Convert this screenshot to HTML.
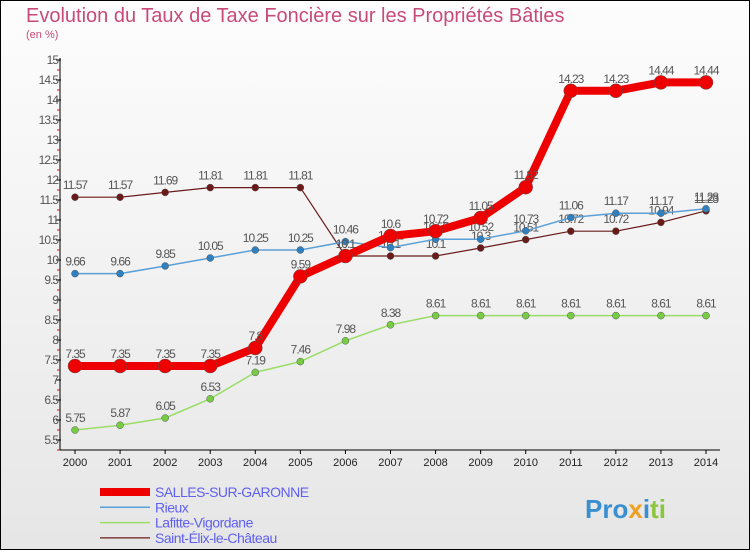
<!DOCTYPE html>
<html><head><meta charset="utf-8"><style>
body{margin:0;width:750px;height:550px;overflow:hidden;font-family:"Liberation Sans",sans-serif}
</style></head><body>
<svg width="750" height="550" xmlns="http://www.w3.org/2000/svg">
<defs><linearGradient id="bg" x1="0" y1="0" x2="0" y2="1"><stop offset="0" stop-color="#fdfdfd"/><stop offset="1" stop-color="#e6e6e6"/></linearGradient></defs>
<rect x="0.5" y="0.5" width="749" height="549" fill="url(#bg)" stroke="#000"/>
<text x="26" y="22" font-size="20" fill="#c84a78">Evolution du Taux de Taxe Foncière sur les Propriétés Bâties</text>
<text x="26" y="38" font-size="11" fill="#c84a78">(en %)</text>
<g id="axes"></g>
<g id="series"></g>
<g id="legend" font-size="14"></g>
<g font-size="26" font-weight="bold">
<text x="585" y="518" fill="#3a8fd0">Pro<tspan fill="#f0a020">x</tspan><tspan fill="#3a8fd0">i</tspan><tspan fill="#8cc63f">ti</tspan></text>
</g>
</svg>
<script>
const years=[2000,2001,2002,2003,2004,2005,2006,2007,2008,2009,2010,2011,2012,2013,2014];
const salles=[7.35,7.35,7.35,7.35,7.8,9.59,10.1,10.6,10.72,11.05,11.82,14.23,14.23,14.44,14.44];
const rieux=[9.66,9.66,9.85,10.05,10.25,10.25,10.46,10.31,10.52,10.52,10.73,11.06,11.17,11.17,11.28];
const lafitte=[5.75,5.87,6.05,6.53,7.19,7.46,7.98,8.38,8.61,8.61,8.61,8.61,8.61,8.61,8.61];
const elix=[11.57,11.57,11.69,11.81,11.81,11.81,10.1,10.1,10.1,10.3,10.51,10.72,10.72,10.94,11.23];
const yTicks=[5.5,6,6.5,7,7.5,8,8.5,9,9.5,10,10.5,11,11.5,12,12.5,13,13.5,14,14.5,15];
const names=["SALLES-SUR-GARONNE","Rieux","Lafitte-Vigordane","Saint-Élix-le-Château"];
const NS="http://www.w3.org/2000/svg";
const X=i=>75+i*(706-75)/14;
const Y=v=>60+(15-v)*40;
function mk(t,a,p){const e=document.createElementNS(NS,t);for(const k in a)e.setAttribute(k,a[k]);p.appendChild(e);return e;}
const ax=document.getElementById('axes');
let e=mk('line',{x1:60,y1:58,x2:60,y2:450,stroke:'#000'},ax);


e=mk('line',{x1:60,y1:450,x2:720,y2:450,stroke:'#000'},ax);


yTicks.forEach(v=>{
 const y=Y(v);
 mk('line',{x1:56,y1:y,x2:61,y2:y,stroke:'#000'},ax);
 mk('line',{x1:57,y1:y+10,x2:60,y2:y+10,stroke:'#e00'},ax);
 const t=mk('text',{x:58,y:y+4,'text-anchor':'end','font-size':12,fill:'#555','letter-spacing':'-1'},ax);
 t.textContent=String(v);
 
 
});
years.forEach((yr,i)=>{
 mk('line',{x1:X(i),y1:450,x2:X(i),y2:454,stroke:'#000'},ax);
 const t=mk('text',{x:X(i),y:466,'text-anchor':'middle','font-size':11,fill:'#222'},ax);
 t.textContent=yr;
 
 
});
const sg=document.getElementById('series');
const defs=[
 {d:elix,c:'#6b1a1a',w:1.2,r:3.5,f:'#6b1a1a',n:'saint-elix'},
 {d:lafitte,c:'#99dd66',w:1.5,r:3.5,f:'#77cc44',n:'lafitte'},
 {d:rieux,c:'#5aa0d8',w:1.5,r:3.5,f:'#2f80c0',n:'rieux'},
 {d:salles,c:'#ee0000',w:8,r:7,f:'#ee0000',n:'salles'}
];
defs.forEach(s=>{
 const g=mk('g',{},sg);
 
 
 const pl=mk('polyline',{points:s.d.map((v,i)=>X(i)+','+Y(v)).join(' '),fill:'none',stroke:s.c,'stroke-width':s.w,'stroke-linejoin':'round'},g);
 
 
 s.d.forEach((v,i)=>{
  const c=mk('circle',{cx:X(i),cy:Y(v),r:s.r,fill:s.f,stroke:'#555','stroke-width':0.5},g);
  
  
  const t=mk('text',{x:X(i),y:Y(v)-8,'text-anchor':'middle','font-size':12,fill:'#555','letter-spacing':'-1'},g);
  t.textContent=String(v);
  
  
 });
});
const lg=document.getElementById('legend');
const lc=[['#ee0000',8],['#5aa0d8',1.5],['#99dd66',1.5],['#6b1a1a',1.2]];
names.forEach((n,i)=>{
 const y=492+i*15.3;
 const g=mk('g',{},lg);
 
 
 mk('line',{x1:100,y1:y,x2:150,y2:y,stroke:lc[i][0],'stroke-width':lc[i][1]},g);
 const t=mk('text',{x:155,y:y+5,fill:'#6060f0','font-size':14,'letter-spacing':'-0.5'},g);
 t.textContent=n;
});
</script>
</body></html>
